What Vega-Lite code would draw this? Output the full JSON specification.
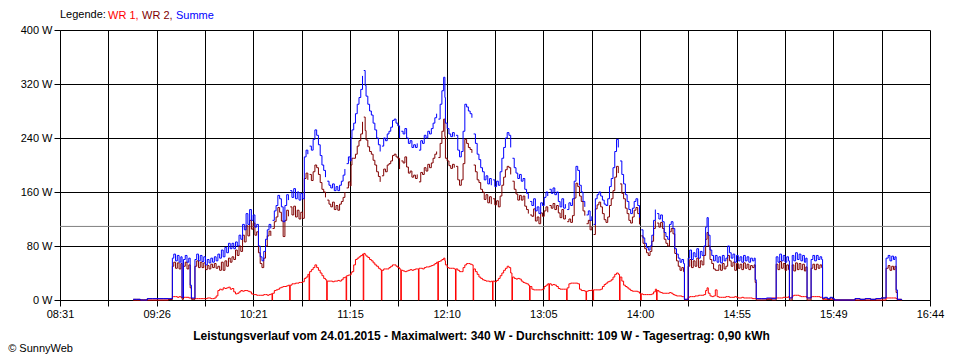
{
"$schema":"https://vega.github.io/schema/vega-lite/v6.json",
"width":870,"height":270,
"autosize":"none",
"padding":{"left":60,"top":30,"right":30,"bottom":60},
"background":"white",
"title":{"text":"© SunnyWeb","orient":"bottom","anchor":"start","frame":"bounds","fontSize":11,"fontWeight":"normal","font":"Liberation Sans","color":"black","offset":2,"dx":-12},
"config":{"view":{"stroke":null},"font":"Liberation Sans",
"axis":{"gridColor":"black","gridOpacity":1,"gridWidth":1,"domainColor":"black","tickColor":"black","tickSize":6,"labelColor":"black","labelFontSize":11,"labelFont":"Liberation Sans"}},
"datasets":{"pw":[
{"t":553,"a":0,"b":1,"s":1},{"t":555,"a":0,"b":1,"s":1},{"t":557,"a":0,"b":0,"s":0},{"t":559,"a":0,"b":0,"s":0},{"t":561,"a":0,"b":2,"s":2},{"t":564,"a":0,"b":2,"s":2},{"t":567,"a":0,"b":2,"s":2},{"t":570,"a":0,"b":2,"s":2},{"t":573,"a":1,"b":1,"s":2},
{"t":575.2,"a":5,"b":50,"s":62},{"t":576,"a":5,"b":56,"s":68},{"t":577,"a":5,"b":47,"s":58},{"t":578,"a":4,"b":55,"s":66},{"t":579,"a":5,"b":46,"s":56},{"t":580,"a":4,"b":54,"s":64},{"t":580.7,"a":3,"b":1,"s":4},
{"t":581.5,"a":4,"b":50,"s":60},{"t":582.5,"a":4,"b":56,"s":66},{"t":583.5,"a":4,"b":46,"s":56},{"t":584.5,"a":3,"b":52,"s":62},{"t":585.3,"a":3,"b":18,"s":22},{"t":586,"a":2,"b":1,"s":3},{"t":587,"a":2,"b":1,"s":3},
{"t":588,"a":2,"b":50,"s":60},{"t":589,"a":2,"b":58,"s":68},{"t":590,"a":2,"b":48,"s":58},{"t":591,"a":2,"b":56,"s":66},{"t":592,"a":2,"b":48,"s":57},{"t":593,"a":2,"b":55,"s":64},{"t":594,"a":2,"b":45,"s":52},{"t":595,"a":3,"b":51,"s":60},{"t":596,"a":3,"b":46,"s":55},{"t":597,"a":2,"b":53,"s":62},{"t":598,"a":2,"b":48,"s":56},{"t":599,"a":3,"b":54,"s":64},
{"t":600,"a":6,"b":47,"s":58},{"t":601,"a":14,"b":50,"s":68},{"t":602,"a":16,"b":44,"s":62},{"t":603,"a":15,"b":56,"s":74},{"t":604,"a":18,"b":44,"s":64},{"t":605,"a":17,"b":58,"s":78},{"t":606,"a":18,"b":50,"s":70},{"t":607,"a":19,"b":62,"s":84},{"t":608,"a":16,"b":56,"s":76},{"t":609,"a":17,"b":64,"s":84},
{"t":610,"a":12,"b":60,"s":76},{"t":611,"a":9,"b":74,"s":86},{"t":612,"a":10,"b":66,"s":80},{"t":613,"a":12,"b":80,"s":96},{"t":614,"a":14,"b":72,"s":90},{"t":615,"a":13,"b":96,"s":112},{"t":616,"a":14,"b":86,"s":104},{"t":617,"a":14,"b":110,"s":128},{"t":618,"a":13,"b":95,"s":112},{"t":619,"a":12,"b":118,"s":134},
{"t":620,"a":9,"b":105,"s":118},{"t":621,"a":8,"b":114,"s":126},{"t":622,"a":8,"b":96,"s":108},{"t":623,"a":7,"b":101,"s":112},{"t":624,"a":7,"b":70,"s":80},{"t":625,"a":7,"b":54,"s":64},{"t":626,"a":7,"b":48,"s":58},{"t":627,"a":8,"b":62,"s":72},{"t":628,"a":8,"b":80,"s":90},{"t":629,"a":7,"b":95,"s":104},
{"t":630,"a":8,"b":102,"s":112},{"t":631,"a":9,"b":95,"s":106},{"t":632,"a":10,"b":106,"s":118},{"t":633,"a":14,"b":116,"s":132},{"t":634,"a":15,"b":123,"s":140},{"t":635,"a":16,"b":137,"s":155},{"t":636,"a":18,"b":130,"s":150},{"t":637,"a":19,"b":117,"s":138},{"t":638,"a":20,"b":94,"s":116},{"t":639,"a":20,"b":118,"s":140},
{"t":640,"a":21,"b":133,"s":156},{"t":641,"a":22,"b":124,"s":148},{"t":642,"a":22,"b":138,"s":162},{"t":643,"a":24,"b":126,"s":152},{"t":644,"a":24,"b":139,"s":165},{"t":645,"a":25,"b":123,"s":150},{"t":646,"a":25,"b":133,"s":160},{"t":647,"a":26,"b":120,"s":148},{"t":648,"a":26,"b":130,"s":158},{"t":649,"a":27,"b":121,"s":150},
{"t":650,"a":32,"b":180,"s":212},{"t":651,"a":34,"b":188,"s":222},{"t":652,"a":38,"b":178,"s":216},{"t":653,"a":42,"b":186,"s":228},{"t":654,"a":45,"b":177,"s":222},{"t":655,"a":48,"b":190,"s":238},{"t":656,"a":52,"b":200,"s":252},{"t":657,"a":48,"b":196,"s":244},{"t":658,"a":44,"b":186,"s":230},{"t":659,"a":40,"b":174,"s":214},
{"t":660,"a":36,"b":164,"s":200},{"t":661,"a":32,"b":160,"s":192},{"t":662,"a":30,"b":152,"s":182},{"t":663,"a":28,"b":148,"s":176},{"t":664,"a":28,"b":142,"s":170},{"t":665,"a":28,"b":138,"s":166},{"t":666,"a":27,"b":145,"s":172},{"t":667,"a":28,"b":134,"s":162},{"t":668,"a":28,"b":140,"s":168},{"t":669,"a":29,"b":133,"s":162},
{"t":670,"a":28,"b":142,"s":170},{"t":671,"a":30,"b":146,"s":176},{"t":672,"a":33,"b":152,"s":185},{"t":673,"a":34,"b":160,"s":194},{"t":674,"a":36,"b":166,"s":202},{"t":675,"a":37,"b":175,"s":212},{"t":676,"a":37,"b":169,"s":206},{"t":676.5,"a":40,"b":200,"s":240},{"t":677,"a":42,"b":210,"s":252},{"t":678,"a":52,"b":210,"s":262},{"t":679,"a":60,"b":216,"s":276},
{"t":680,"a":62,"b":228,"s":290},{"t":681,"a":64,"b":236,"s":300},{"t":682,"a":66,"b":246,"s":312},{"t":683,"a":68,"b":264,"s":332},{"t":683.7,"a":69,"b":271,"s":340},{"t":684.5,"a":67,"b":251,"s":318},{"t":685,"a":65,"b":237,"s":302},{"t":686,"a":63,"b":227,"s":290},{"t":687,"a":60,"b":220,"s":280},{"t":688,"a":58,"b":216,"s":274},{"t":689,"a":55,"b":207,"s":262},
{"t":690,"a":52,"b":200,"s":252},{"t":691,"a":50,"b":190,"s":240},{"t":692,"a":47,"b":183,"s":230},{"t":693,"a":45,"b":175,"s":220},{"t":694,"a":44,"b":184,"s":228},{"t":695,"a":46,"b":194,"s":240},{"t":696,"a":46,"b":190,"s":236},{"t":697,"a":46,"b":200,"s":246},{"t":698,"a":48,"b":202,"s":250},{"t":699,"a":50,"b":206,"s":256},
{"t":700,"a":52,"b":214,"s":266},{"t":701,"a":52,"b":216,"s":268},{"t":702,"a":50,"b":212,"s":262},{"t":703,"a":48,"b":210,"s":258},{"t":704,"a":46,"b":194,"s":240},{"t":705,"a":44,"b":206,"s":250},{"t":706,"a":43,"b":203,"s":246},{"t":707,"a":42,"b":212,"s":254},{"t":708,"a":43,"b":197,"s":240},{"t":709,"a":44,"b":188,"s":232},
{"t":710,"a":45,"b":191,"s":236},{"t":711,"a":44,"b":182,"s":226},{"t":712,"a":45,"b":185,"s":230},{"t":713,"a":46,"b":180,"s":226},{"t":714,"a":46,"b":186,"s":232},{"t":715,"a":47,"b":175,"s":222},{"t":716,"a":47,"b":189,"s":236},{"t":717,"a":46,"b":186,"s":232},{"t":718,"a":48,"b":196,"s":244},{"t":719,"a":49,"b":191,"s":240},
{"t":720,"a":49,"b":201,"s":250},{"t":721,"a":50,"b":196,"s":246},{"t":722,"a":51,"b":203,"s":254},{"t":723,"a":52,"b":210,"s":262},{"t":724,"a":54,"b":216,"s":270},{"t":725,"a":56,"b":220,"s":276},{"t":726,"a":57,"b":211,"s":268},{"t":727,"a":58,"b":232,"s":290},{"t":728,"a":60,"b":250,"s":310},{"t":729,"a":62,"b":268,"s":330},{"t":729.7,"a":58,"b":242,"s":300},
{"t":730,"a":52,"b":210,"s":262},{"t":731,"a":48,"b":206,"s":254},{"t":732,"a":47,"b":199,"s":246},{"t":733,"a":47,"b":195,"s":242},{"t":734,"a":47,"b":201,"s":248},{"t":735,"a":46,"b":196,"s":242},{"t":736,"a":46,"b":198,"s":244},{"t":737,"a":44,"b":178,"s":222},{"t":738,"a":42,"b":170,"s":212},{"t":739,"a":42,"b":178,"s":220},
{"t":740,"a":48,"b":202,"s":250},{"t":741,"a":52,"b":238,"s":290},{"t":742,"a":54,"b":232,"s":286},{"t":743,"a":54,"b":226,"s":280},{"t":744,"a":53,"b":223,"s":276},{"t":745,"a":52,"b":218,"s":270},{"t":746,"a":46,"b":200,"s":246},{"t":747,"a":42,"b":190,"s":232},{"t":748,"a":38,"b":178,"s":216},{"t":749,"a":34,"b":174,"s":208},
{"t":750,"a":32,"b":164,"s":196},{"t":751,"a":30,"b":160,"s":190},{"t":752,"a":29,"b":149,"s":178},{"t":753,"a":28,"b":156,"s":184},{"t":754,"a":28,"b":144,"s":172},{"t":755,"a":27,"b":153,"s":180},{"t":756,"a":28,"b":142,"s":170},{"t":757,"a":28,"b":150,"s":178},{"t":758,"a":27,"b":141,"s":168},{"t":759,"a":29,"b":147,"s":176},
{"t":760,"a":32,"b":138,"s":170},{"t":761,"a":36,"b":154,"s":190},{"t":762,"a":40,"b":170,"s":210},{"t":763,"a":44,"b":182,"s":226},{"t":764,"a":47,"b":193,"s":240},{"t":765,"a":50,"b":198,"s":248},{"t":766,"a":48,"b":196,"s":244},{"t":767,"a":40,"b":186,"s":226},{"t":768,"a":34,"b":176,"s":210},{"t":769,"a":32,"b":164,"s":196},
{"t":770,"a":31,"b":157,"s":188},{"t":771,"a":32,"b":148,"s":180},{"t":772,"a":31,"b":155,"s":186},{"t":773,"a":28,"b":148,"s":176},{"t":774,"a":26,"b":154,"s":180},{"t":775,"a":25,"b":139,"s":164},{"t":776,"a":24,"b":134,"s":158},{"t":777,"a":22,"b":128,"s":150},{"t":778,"a":20,"b":126,"s":146},{"t":779,"a":16,"b":124,"s":140},
{"t":780,"a":15,"b":135,"s":150},{"t":781,"a":15,"b":117,"s":132},{"t":782,"a":15,"b":123,"s":138},{"t":783,"a":15,"b":113,"s":128},{"t":784,"a":15,"b":129,"s":144},{"t":785,"a":16,"b":124,"s":140},{"t":786,"a":20,"b":132,"s":152},{"t":787,"a":22,"b":138,"s":160},{"t":788,"a":24,"b":130,"s":154},{"t":789,"a":24,"b":140,"s":164},
{"t":790,"a":22,"b":136,"s":158},{"t":791,"a":23,"b":143,"s":166},{"t":792,"a":22,"b":134,"s":156},{"t":793,"a":20,"b":140,"s":160},{"t":794,"a":17,"b":129,"s":146},{"t":795,"a":16,"b":122,"s":138},{"t":796,"a":16,"b":134,"s":150},{"t":797,"a":16,"b":120,"s":136},{"t":798,"a":16,"b":126,"s":142},{"t":799,"a":18,"b":116,"s":134},
{"t":800,"a":24,"b":120,"s":144},{"t":801,"a":25,"b":115,"s":140},{"t":802,"a":25,"b":125,"s":150},{"t":803,"a":25,"b":151,"s":176},{"t":804,"a":25,"b":173,"s":198},{"t":805,"a":24,"b":168,"s":192},{"t":806,"a":16,"b":154,"s":170},{"t":807,"a":14,"b":146,"s":160},{"t":808,"a":14,"b":132,"s":146},{"t":809,"a":13,"b":125,"s":138},
{"t":810,"a":13,"b":113,"s":126},{"t":811,"a":14,"b":118,"s":132},{"t":812,"a":14,"b":104,"s":118},{"t":813,"a":15,"b":109,"s":124},{"t":814,"a":15,"b":97,"s":112},{"t":815,"a":15,"b":135,"s":150},{"t":816,"a":15,"b":141,"s":156},{"t":817,"a":15,"b":145,"s":160},{"t":818,"a":16,"b":138,"s":154},{"t":819,"a":20,"b":128,"s":148},
{"t":820,"a":23,"b":119,"s":142},{"t":821,"a":25,"b":115,"s":140},{"t":822,"a":27,"b":123,"s":150},{"t":823,"a":28,"b":140,"s":168},{"t":824,"a":30,"b":150,"s":180},{"t":825,"a":34,"b":162,"s":196},{"t":826,"a":38,"b":182,"s":220},{"t":827,"a":40,"b":198,"s":238},{"t":828,"a":38,"b":188,"s":226},{"t":829,"a":34,"b":172,"s":206},
{"t":830,"a":28,"b":158,"s":186},{"t":831,"a":22,"b":150,"s":172},{"t":832,"a":20,"b":136,"s":156},{"t":833,"a":18,"b":128,"s":146},{"t":834,"a":16,"b":118,"s":134},{"t":835,"a":14,"b":114,"s":128},{"t":836,"a":13,"b":123,"s":136},{"t":837,"a":13,"b":133,"s":146},{"t":838,"a":13,"b":137,"s":150},{"t":839,"a":12,"b":128,"s":140},
{"t":840,"a":10,"b":112,"s":122},{"t":841,"a":9,"b":95,"s":104},{"t":842,"a":8,"b":84,"s":92},{"t":843,"a":8,"b":76,"s":84},{"t":844,"a":8,"b":70,"s":78},{"t":845,"a":8,"b":66,"s":74},{"t":846,"a":8,"b":72,"s":80},{"t":847,"a":9,"b":87,"s":96},{"t":848,"a":12,"b":106,"s":118},{"t":849,"a":16,"b":118,"s":134},
{"t":850,"a":14,"b":114,"s":128},{"t":851,"a":12,"b":108,"s":120},{"t":852,"a":11,"b":115,"s":126},{"t":853,"a":10,"b":106,"s":116},{"t":854,"a":10,"b":90,"s":100},{"t":855,"a":10,"b":84,"s":94},{"t":856,"a":10,"b":80,"s":90},{"t":857,"a":11,"b":101,"s":112},{"t":858,"a":10,"b":106,"s":116},{"t":859,"a":8,"b":98,"s":106},
{"t":860,"a":7,"b":69,"s":76},{"t":861,"a":6,"b":58,"s":68},{"t":862,"a":6,"b":50,"s":62},{"t":863,"a":6,"b":44,"s":56},{"t":864,"a":5,"b":48,"s":60},{"t":865,"a":5,"b":42,"s":54},{"t":865.5,"a":1,"b":0,"s":1},{"t":866.5,"a":1,"b":0,"s":1},
{"t":867.6,"a":4,"b":50,"s":62},{"t":868.5,"a":5,"b":60,"s":74},{"t":869.5,"a":5,"b":48,"s":60},{"t":870.5,"a":5,"b":58,"s":70},{"t":871.5,"a":6,"b":50,"s":64},{"t":872.5,"a":6,"b":62,"s":76},{"t":873.5,"a":7,"b":48,"s":62},{"t":874.5,"a":7,"b":58,"s":72},{"t":875.5,"a":7,"b":52,"s":66},{"t":876.5,"a":8,"b":66,"s":80},{"t":877.5,"a":14,"b":90,"s":108},{"t":878.3,"a":18,"b":100,"s":122},{"t":879,"a":10,"b":80,"s":96},
{"t":880,"a":6,"b":60,"s":74},{"t":881,"a":5,"b":54,"s":66},{"t":882,"a":6,"b":46,"s":58},{"t":883,"a":15,"b":44,"s":66},{"t":884,"a":5,"b":44,"s":56},{"t":885,"a":4,"b":52,"s":64},{"t":886,"a":4,"b":44,"s":55},{"t":887,"a":4,"b":54,"s":66},{"t":888,"a":4,"b":46,"s":58},{"t":889,"a":5,"b":50,"s":62},
{"t":890,"a":5,"b":66,"s":80},{"t":891,"a":4,"b":58,"s":70},{"t":892,"a":4,"b":50,"s":62},{"t":893,"a":4,"b":56,"s":68},{"t":894,"a":5,"b":44,"s":56},{"t":895,"a":4,"b":54,"s":66},{"t":896,"a":3,"b":47,"s":58},{"t":897,"a":3,"b":53,"s":64},{"t":898,"a":4,"b":45,"s":56},{"t":899,"a":3,"b":55,"s":66},
{"t":900,"a":3,"b":47,"s":58},{"t":901,"a":3,"b":53,"s":64},{"t":902,"a":3,"b":45,"s":56},{"t":903,"a":3,"b":51,"s":62},{"t":904,"a":2,"b":48,"s":58},{"t":905,"a":2,"b":52,"s":62},{"t":905.6,"a":2,"b":26,"s":30},{"t":906.2,"a":2,"b":0,"s":2},{"t":909,"a":2,"b":0,"s":2},{"t":912,"a":2,"b":1,"s":3},{"t":915,"a":3,"b":0,"s":2},
{"t":917.5,"a":3,"b":53,"s":64},{"t":918.5,"a":3,"b":45,"s":56},{"t":919.5,"a":3,"b":57,"s":68},{"t":920.5,"a":3,"b":47,"s":58},{"t":921.5,"a":4,"b":54,"s":66},{"t":922.5,"a":4,"b":44,"s":56},{"t":923.5,"a":4,"b":52,"s":64},{"t":924.5,"a":5,"b":45,"s":58},{"t":925,"a":3,"b":0,"s":3},
{"t":926.6,"a":6,"b":52,"s":66},{"t":927.5,"a":7,"b":43,"s":58},{"t":928.5,"a":7,"b":55,"s":70},{"t":929.5,"a":7,"b":45,"s":60},{"t":930.5,"a":6,"b":54,"s":68},{"t":931.5,"a":5,"b":45,"s":58},{"t":932.5,"a":5,"b":53,"s":66},{"t":933.5,"a":5,"b":43,"s":56},{"t":934.3,"a":5,"b":49,"s":62},{"t":935,"a":3,"b":0,"s":3},
{"t":937.3,"a":5,"b":47,"s":60},{"t":938.3,"a":5,"b":53,"s":66},{"t":939.3,"a":5,"b":45,"s":58},{"t":940.3,"a":5,"b":53,"s":66},{"t":941.3,"a":5,"b":47,"s":60},{"t":942.3,"a":4,"b":52,"s":64},{"t":943.3,"a":4,"b":48,"s":60},{"t":943.8,"a":1,"b":2,"s":3},
{"t":945,"a":1,"b":3,"s":4},{"t":946.5,"a":1,"b":1,"s":2},{"t":948,"a":1,"b":3,"s":4},{"t":949.5,"a":1,"b":1,"s":2},{"t":950.5,"a":0,"b":0,"s":0},
{"t":962.2,"a":0,"b":2,"s":2},{"t":965,"a":0,"b":1,"s":1},{"t":968,"a":0,"b":2,"s":2},{"t":971,"a":0,"b":1,"s":1},{"t":974,"a":0,"b":2,"s":2},{"t":977,"a":0,"b":3,"s":3},
{"t":979.8,"a":3,"b":47,"s":62},{"t":981,"a":3,"b":51,"s":66},{"t":982,"a":3,"b":44,"s":58},{"t":983,"a":3,"b":50,"s":65},{"t":984,"a":3,"b":45,"s":60},{"t":984.8,"a":3,"b":50,"s":64},{"t":985.5,"a":2,"b":11,"s":15},{"t":986.2,"a":1,"b":0,"s":1},{"t":988,"a":0,"b":1,"s":1},{"t":988.6,"a":0,"b":0,"s":0},
{"t":631.7,"a":0},{"t":641.7,"a":0},{"t":652.7,"a":0},{"t":662.7,"a":0},{"t":673.7,"a":0},{"t":683.4,"a":0},{"t":693.7,"a":0},{"t":704.7,"a":0},{"t":714.7,"a":0},{"t":725.7,"a":0},{"t":735.7,"a":0},{"t":745.7,"a":0},{"t":756.7,"a":0},{"t":767.7,"a":0},{"t":777.7,"a":0},{"t":788.7,"a":0},{"t":798.7,"a":0},{"t":809.7,"a":0},{"t":813.7,"a":0},{"t":828.7,"a":0},{"t":840.7,"a":0},{"t":849.7,"a":0}
]},
"data":{"name":"pw"},
"encoding":{
"x":{"field":"t","type":"quantitative",
 "scale":{"domain":[511.5,1004.7],"nice":false,"zero":false},
 "axis":{"values":[511.5,538.9,566.3,593.7,621.1,648.5,675.9,703.3,730.7,758.1,785.5,812.9,840.3,867.7,895.1,922.5,949.9,977.3,1004.7],
  "labelExpr":"(round((datum.value-511.5)/27.4) % 2 == 1) ? '' : format(floor(datum.value/60),'02d') + ':' + format(floor(datum.value % 60),'02d')",
  "labelOverlap":false,"labelFlush":false,"labelBound":false,"labelPadding":2,"grid":true,
  "title":"Leistungsverlauf vom 24.01.2015 - Maximalwert: 340 W - Durchschnitt: 109 W - Tagesertrag: 0,90 kWh",
  "titleFontSize":12,"titleFontWeight":"bold","titleColor":"black","titleFont":"Liberation Sans","titlePadding":11,"titleX":421,"titleAlign":"center","titleAnchor":null}}
},
"layer":[
{"data":{"values":[{"avg":109}]},"mark":{"type":"rule","color":"#808080","strokeWidth":1},
 "encoding":{"x":null,"y":{"field":"avg","type":"quantitative"}}},
{"mark":{"type":"line","interpolate":"step-after","strokeWidth":1},
 "encoding":{"y":{"field":"a","type":"quantitative","scale":{"domain":[0,400],"nice":false},
   "axis":{"values":[0,80,160,240,320,400],"labelExpr":"datum.value + ' W'","title":null,"grid":true,"labelPadding":2}},
  "color":{"datum":"a","type":"nominal","scale":{"domain":["a","b","s"],"range":["#ff0000","#800000","#0000ff"]},
   "legend":{"orient":"none","legendX":0,"legendY":-20,"direction":"horizontal","title":"Legende:","titleOrient":"left","titleFontSize":11,"titleFontWeight":"normal","titleColor":"black","titlePadding":3,"titleFont":"Liberation Sans",
    "labelFontSize":11,"labelFont":"Liberation Sans","labelOffset":-12,"columnPadding":3,"symbolSize":0,"symbolOpacity":0,"symbolStrokeWidth":0,
    "labelExpr":"datum.value=='a' ? 'WR 1,' : datum.value=='b' ? 'WR 2,' : 'Summe'",
    "labelColor":{"expr":"datum.value=='a' ? '#ff0000' : datum.value=='b' ? '#800000' : '#0000ff'"}}}}},
{"mark":{"type":"line","interpolate":"step-after","strokeWidth":1},
 "encoding":{"y":{"field":"b","type":"quantitative"},"color":{"datum":"b","type":"nominal"}}},
{"mark":{"type":"line","interpolate":"step-after","strokeWidth":1},
 "encoding":{"y":{"field":"s","type":"quantitative"},"color":{"datum":"s","type":"nominal"}}}
]
}
